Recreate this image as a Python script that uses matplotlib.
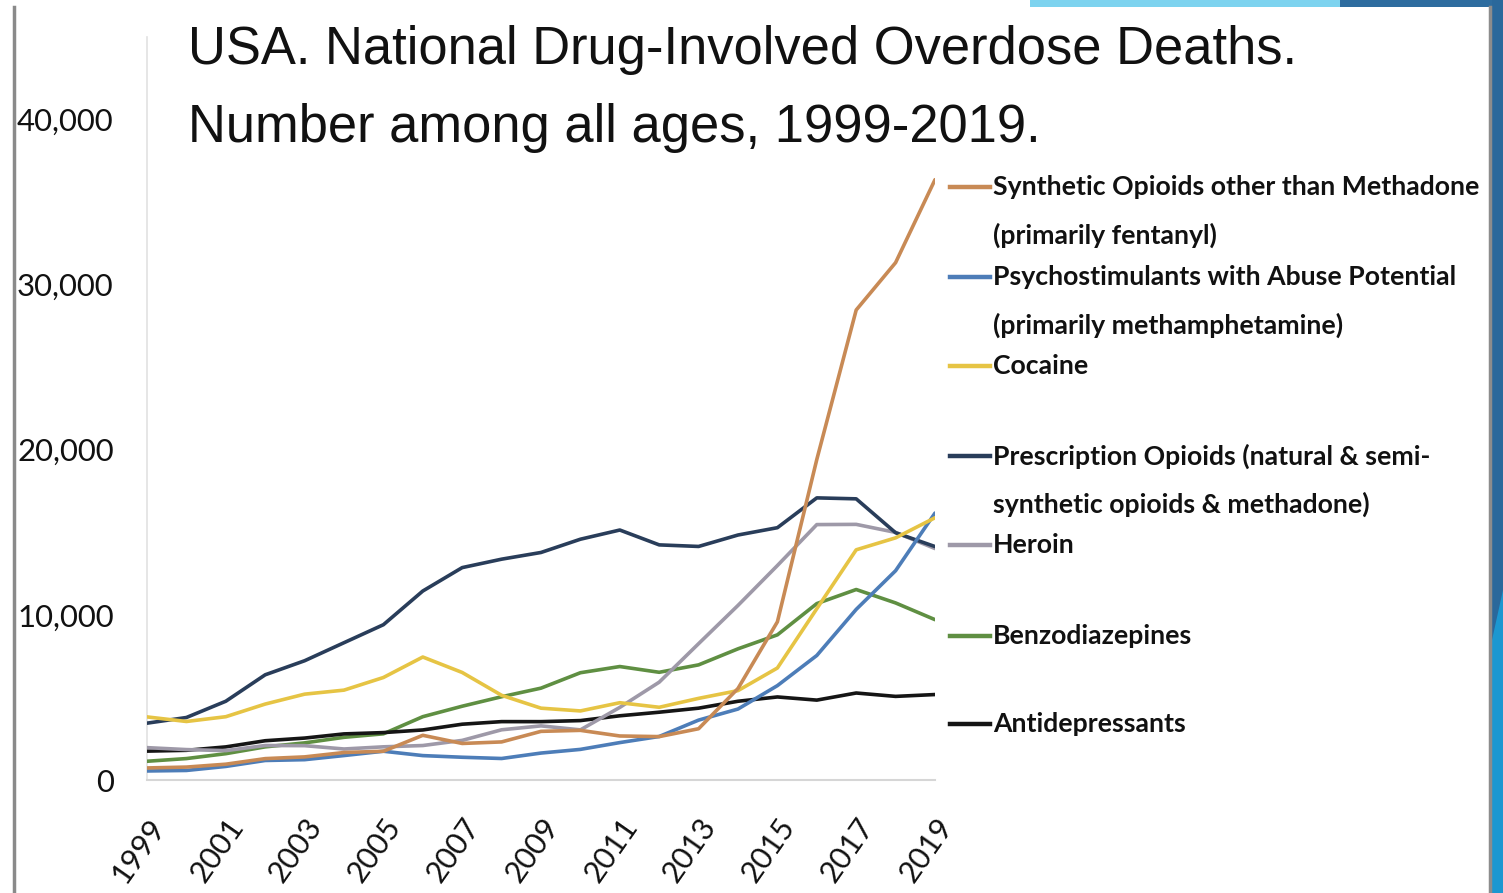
import matplotlib
matplotlib.use('Agg')
import matplotlib.pyplot as plt
from matplotlib.lines import Line2D
from matplotlib.patches import Rectangle, Polygon

# ---------------- data ----------------
years = list(range(1999, 2020))
synthetic = [730, 782, 957, 1295, 1400, 1664, 1742, 2707, 2213, 2306, 2946,
             3007, 2666, 2628, 3105, 5544, 9580, 19413, 28466, 31335, 36359]
psychostim = [547, 578, 822, 1182, 1231, 1481, 1742, 1478, 1378, 1302, 1632,
              1854, 2266, 2635, 3627, 4298, 5716, 7542, 10333, 12676, 16167]
cocaine = [3822, 3544, 3833, 4599, 5199, 5443, 6208, 7448, 6512, 5129, 4350,
           4183, 4681, 4404, 4944, 5415, 6784, 10375, 13942, 14666, 15883]
prescription = [3442, 3785, 4770, 6372, 7222, 8315, 9405, 11446, 12864, 13374, 13780,
                14583, 15140, 14240, 14145, 14838, 15281, 17087, 17029, 14975, 14139]
heroin = [1960, 1842, 1779, 2089, 2080, 1878, 2009, 2088, 2399, 3041, 3278,
          3036, 4397, 5925, 8257, 10574, 12989, 15469, 15482, 14996, 14019]
benzo = [1135, 1298, 1594, 2007, 2248, 2585, 2797, 3835, 4469, 5043, 5563,
         6497, 6872, 6524, 6973, 7945, 8791, 10684, 11537, 10724, 9711]
antidep = [1749, 1798, 2005, 2378, 2539, 2792, 2871, 3031, 3379, 3536, 3534,
           3598, 3889, 4106, 4350, 4769, 5030, 4838, 5269, 5064, 5176]

series_labels = [
    ["Synthetic Opioids other than Methadone", "(primarily fentanyl)"],
    ["Psychostimulants with Abuse Potential", "(primarily methamphetamine)"],
    ["Cocaine"],
    ["Prescription Opioids (natural & semi-", "synthetic opioids & methadone)"],
    ["Heroin"],
    ["Benzodiazepines"],
    ["Antidepressants"],
]
series_values = [synthetic, psychostim, cocaine, prescription, heroin, benzo, antidep]
series_colors = ["#c88a55", "#4d7db8", "#e6c444", "#293d5a", "#9e99a8", "#5f8f42", "#151515"]

x_ticks = list(range(1999, 2020, 2))
y_ticks = [0, 10000, 20000, 30000, 40000]

title_lines = ["USA. National Drug-Involved Overdose Deaths.",
               "Number among all ages, 1999-2019."]

# ---------------- figure ----------------
W, H = 1503, 893
fig = plt.figure(figsize=(W / 100, H / 100), dpi=100)
fig.patch.set_facecolor("white")

def fx(px):
    return px / W

def fy(py):
    return 1 - py / H

TITLE_FONT = ["Liberation Sans", "DejaVu Sans"]
BODY_FONT = ["Lato", "Liberation Sans", "DejaVu Sans"]

# slide decorations
fig.add_artist(Line2D([fx(14), fx(14)], [fy(7), fy(893)], color="#8a8a8a", lw=2.5,
                      transform=fig.transFigure))
fig.add_artist(Rectangle((fx(1030), fy(7)), fx(1340) - fx(1030), 7 / H,
                         transform=fig.transFigure, color="#7dd3ef", lw=0))
fig.add_artist(Rectangle((fx(1340), fy(7)), 1 - fx(1340), 7 / H,
                         transform=fig.transFigure, color="#2d6c9f", lw=0))
fig.add_artist(Rectangle((fx(1492), 0), 1 - fx(1492), 1,
                         transform=fig.transFigure, color="#2a689b", lw=0))
fig.add_artist(Polygon([[fx(1492), fy(640)], [fx(1503), fy(590)], [1, 0], [fx(1492), 0]],
                       closed=True, transform=fig.transFigure, color="#1c97d0", lw=0))
fig.add_artist(Line2D([fx(1490), fx(1490)], [fy(7), 0], color="#8c8c8c", lw=2.5,
                      transform=fig.transFigure))

# axes
ax = fig.add_axes([fx(147), fy(780), fx(935) - fx(147), (780 - 37) / H])
ax.set_xlim(1999, 2019)
ax.set_ylim(0, 45000)
ax.patch.set_alpha(0)

draw_order = [5, 6, 4, 3, 1, 2, 0]
for i in draw_order:
    ax.plot(years, series_values[i], color=series_colors[i], lw=2.6,
            solid_joinstyle="round", solid_capstyle="round", zorder=3 + draw_order.index(i))

for s in ["top", "right"]:
    ax.spines[s].set_visible(False)
ax.spines["left"].set_color("#e2e2e2")
ax.spines["bottom"].set_color("#d6d6d6")
ax.spines["left"].set_linewidth(1.2)
ax.spines["bottom"].set_linewidth(1.5)

ax.set_yticks(y_ticks)
ax.set_yticklabels([f"{v:,}" for v in y_ticks], fontfamily=BODY_FONT, fontsize=24,
                   color="#111111")
ax.set_xticks(x_ticks)
ax.set_xticklabels([str(v) for v in x_ticks], fontfamily=BODY_FONT, fontsize=22,
                   rotation=55, ha="right", va="top", rotation_mode="anchor",
                   color="#111111")
ax.tick_params(axis="both", length=0)
ax.tick_params(axis="y", pad=24)
ax.tick_params(axis="x", pad=24)

# title
t1 = fig.text(fx(188), fy(64), title_lines[0], fontfamily=TITLE_FONT, fontsize=44,
              va="baseline", ha="left", color="#111111")
t2 = fig.text(fx(188), fy(142), title_lines[1], fontfamily=TITLE_FONT, fontsize=44,
              va="baseline", ha="left", color="#111111")

# legend (manual)
entry_y = [187, 277, 366, 456, 545, 636, 724]
legend_texts = []
for lab, col, y in zip(series_labels, series_colors, entry_y):
    fig.add_artist(Line2D([fx(950), fx(990)], [fy(y), fy(y)], color=col, lw=3.2,
                          transform=fig.transFigure))
    for k, line in enumerate(lab):
        legend_texts.append(fig.text(fx(993), fy(y + 48 * k), line, fontfamily=BODY_FONT,
                                     fontsize=22, va="center", ha="left", color="#111111",
                                     fontweight="bold"))

# fit text sizes to the reference widths
fig.canvas.draw()
r = fig.canvas.get_renderer()

def scale_for(t, target):
    return target / t.get_window_extent(r).width

s = scale_for(t1, 1112)
for t in (t1, t2):
    t.set_fontsize(t.get_fontsize() * s)
s = scale_for(legend_texts[0], 485)
for t in legend_texts:
    t.set_fontsize(t.get_fontsize() * s)
ylabels = ax.get_yticklabels()
s = scale_for(ylabels[-1], 97)
for t in ylabels:
    t.set_fontsize(t.get_fontsize() * s)

fig.savefig("out.png", dpi=100, facecolor="white")
